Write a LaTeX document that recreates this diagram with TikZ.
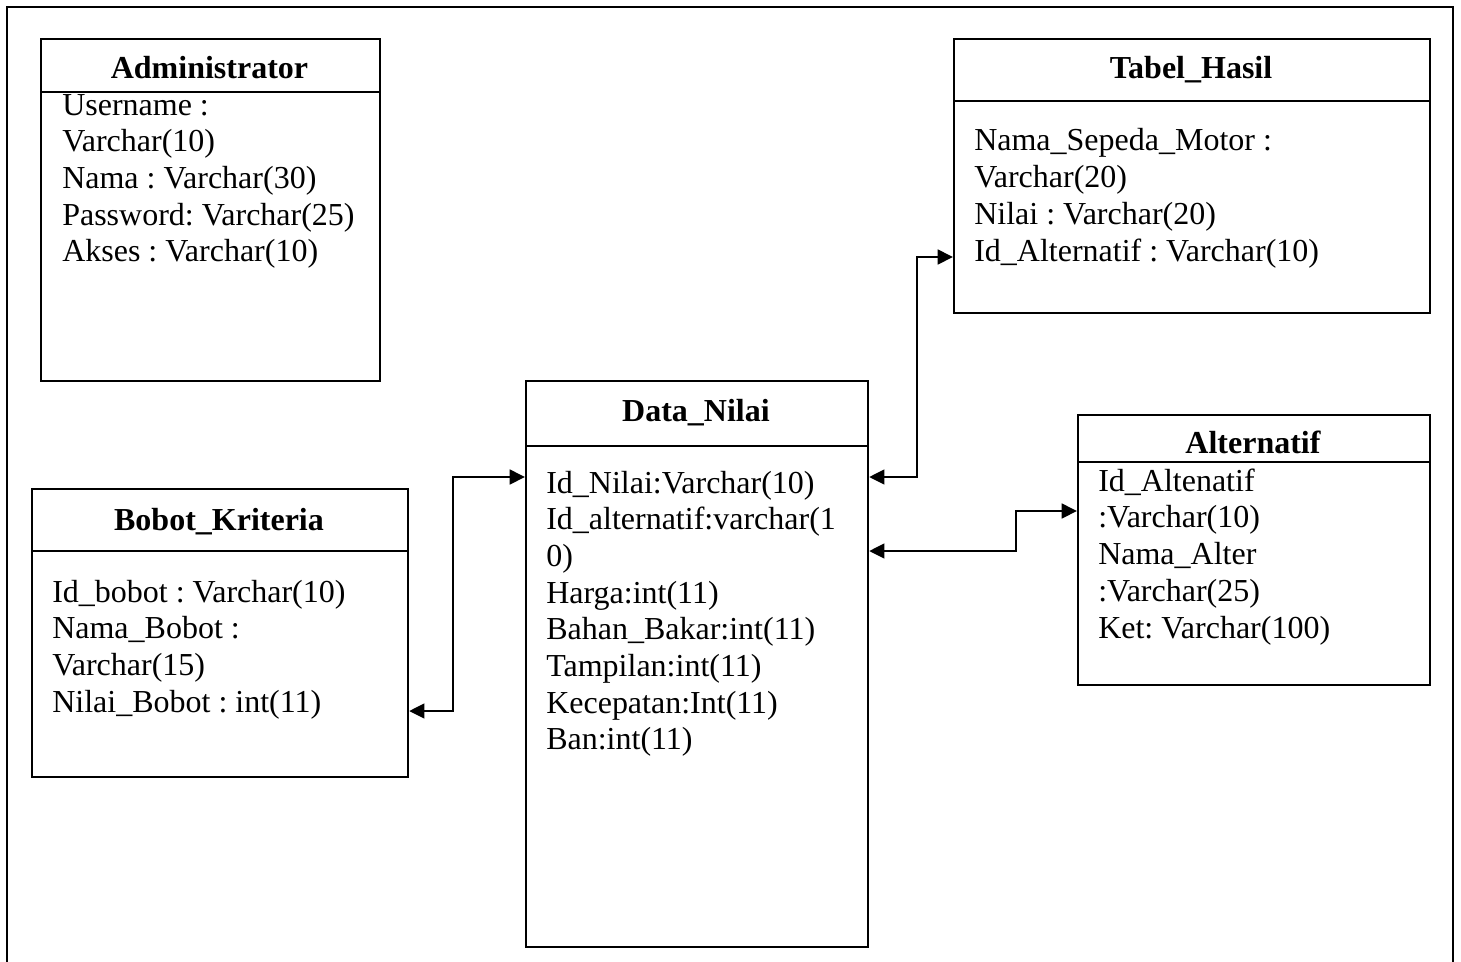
\documentclass[tikz,border=0pt]{standalone}
\usepackage{fontspec}
\setmainfont{Liberation Serif}
\usetikzlibrary{arrows.meta}
\frenchspacing

\tikzset{
  box/.style={draw, line width=1.6pt, inner sep=0pt, anchor=north west},
  divider/.style={line width=1.6pt},
  frameline/.style={line width=1.6pt},
  ttl/.style={font=\bfseries\fontsize{24}{27.5}\selectfont, anchor=base, inner sep=0pt},
  attr/.style={font=\fontsize{24}{27.5}\selectfont, anchor=base west, inner sep=0pt},
  link/.style={line width=2pt, {Triangle[length=11.5pt,width=11pt]}-{Triangle[length=11.5pt,width=11pt]}}
}

\begin{document}
\begin{tikzpicture}[x=0.75pt, y=-0.75pt]
\useasboundingbox (0,0) rectangle (1461,961);

% outer page frame, open at the bottom
\draw[frameline] (7,975) -- (7,7) -- (1453,7) -- (1453,975);

% ---------- Administrator ----------
\node[box, minimum width=339*0.75pt, minimum height=342*0.75pt] (adm) at (40,38) {};
\draw[divider] (adm.west |- 0,92) -- (adm.east |- 0,92);
\node[ttl] (admT) at (209.5,78) {Administrator};
\foreach \t [count=\i from 0] in {Username :, Varchar(10), Nama : Varchar(30), Password: Varchar(25), Akses : Varchar(10)}
  \node[attr] (adm-\i) at (62,115+36.7*\i) {\t};

% ---------- Tabel_Hasil ----------
\node[box, minimum width=476*0.75pt, minimum height=274*0.75pt] (hsl) at (953,38) {};
\draw[divider] (hsl.west |- 0,101) -- (hsl.east |- 0,101);
\node[ttl] (hslT) at (1191,78) {Tabel\_Hasil};
\foreach \t [count=\i from 0] in {Nama\_Sepeda\_Motor :, Varchar(20), Nilai : Varchar(20), Id\_Alternatif : Varchar(10)}
  \node[attr] (hsl-\i) at (974,150+37.2*\i) {\t};

% ---------- Data_Nilai ----------
\node[box, minimum width=342*0.75pt, minimum height=566*0.75pt] (dn) at (525,380) {};
\draw[divider] (dn.west |- 0,446) -- (dn.east |- 0,446);
\node[ttl] (dnT) at (696,421) {Data\_Nilai};
\foreach \t [count=\i from 0] in {Id\_Nilai:Varchar(10), Id\_alternatif:varchar(1, 0), Harga:int(11), Bahan\_Bakar:int(11), Tampilan:int(11), Kecepatan:Int(11), Ban:int(11)}
  \node[attr] (dn-\i) at (546,493+36.7*\i) {\t};

% ---------- Alternatif ----------
\node[box, minimum width=352*0.75pt, minimum height=270*0.75pt] (alt) at (1077,414) {};
\draw[divider] (alt.west |- 0,462) -- (alt.east |- 0,462);
\node[ttl] (altT) at (1253,453) {Alternatif};
\foreach \t [count=\i from 0] in {Id\_Altenatif, :Varchar(10), Nama\_Alter, :Varchar(25), Ket: Varchar(100)}
  \node[attr] (alt-\i) at (1098,491+36.9*\i) {\t};

% ---------- Bobot_Kriteria ----------
\node[box, minimum width=376*0.75pt, minimum height=288*0.75pt] (bob) at (31,488) {};
\draw[divider] (bob.west |- 0,551) -- (bob.east |- 0,551);
\node[ttl] (bobT) at (219,530) {Bobot\_Kriteria};
\foreach \t [count=\i from 0] in {Id\_bobot : Varchar(10), Nama\_Bobot :, Varchar(15), Nilai\_Bobot : int(11)}
  \node[attr] (bob-\i) at (52,602+36.9*\i) {\t};

% ---------- relations ----------
\draw[link] (bob.east |- 0,711) -- (453,711) -- (453,477) -- (dn.west |- 0,477);
\draw[link] (dn.east |- 0,477) -- (917,477) -- (917,257) -- (hsl.west |- 0,257);
\draw[link] (dn.east |- 0,551) -- (1016,551) -- (1016,511) -- (alt.west |- 0,511);
\end{tikzpicture}
\end{document}
